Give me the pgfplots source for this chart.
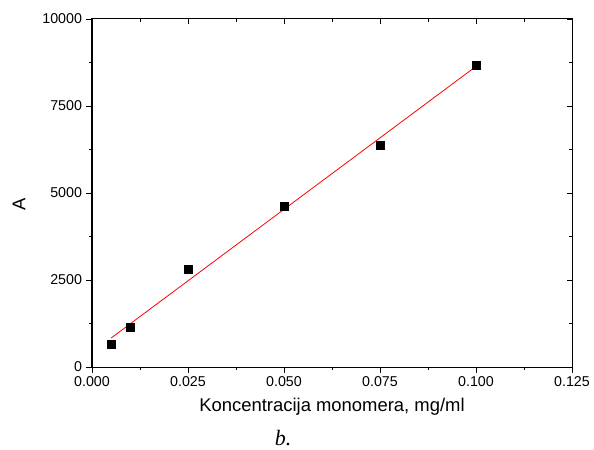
\documentclass[border=0pt]{standalone}
\usepackage{pgfplots}
\pgfplotsset{compat=1.18}
\usepackage{fontspec}
\setmainfont{Liberation Sans}
\newfontfamily\seriffont{Liberation Serif}
\begin{document}
\begin{tikzpicture}
\useasboundingbox (-92bp,-83bp) rectangle (502bp,367bp);
\pgfplotsset{
  common/.style={
    at={(0,0)}, anchor=south west,
    scale only axis, width=480bp, height=348bp,
    xmin=0, xmax=0.125, ymin=0, ymax=10000,
    xtick={0,0.025,0.05,0.075,0.1,0.125},
    ytick={0,2500,5000,7500,10000},
    minor x tick num=1, minor y tick num=1,
    scaled x ticks=false, scaled y ticks=false,
    axis line style={line width=1bp},
    major tick length=5.5bp, minor tick length=3bp,
    every tick/.style={black, line width=0.9bp},
    /pgf/number format/assume math mode=true,
    tick label style={font=\fontsize{14.3}{16}\selectfont},
  }
}
\begin{axis}[common,
  axis lines=box,
  tick align=outside,
  xtick pos=left, ytick pos=left,
  xticklabel style={/pgf/number format/fixed, /pgf/number format/fixed zerofill, /pgf/number format/precision=3},
  yticklabel style={/pgf/number format/fixed, /pgf/number format/set thousands separator={}},
  xlabel={Koncentracija monomera, mg/ml},
  ylabel={A},
  label style={font=\fontsize{18.5}{20}\selectfont},
  xlabel style={at={(axis description cs:0.5,0)}, anchor=center, yshift=-40bp},
  ylabel style={at={(axis description cs:-0.152,0.466)}, anchor=center},
  xticklabel shift=1bp, yticklabel shift=1bp,
  clip=false,
]
\addplot[red, line width=0.8bp, no marks] coordinates {(0.005,834) (0.1,8638)};
\addplot[only marks, mark=square*, mark size=4bp, black] coordinates {
(0.005,661) (0.01,1149) (0.025,2816) (0.05,4626) (0.075,6379) (0.1,8678)};
\node[font=\seriffont\itshape\fontsize{22}{24}\selectfont] at (axis description cs:0.398,-0.205) {b.};
\end{axis}
\begin{axis}[common,
  tick align=inside,
  xtick pos=right, ytick pos=right,
  xticklabels={}, yticklabels={},
]
\end{axis}
\end{tikzpicture}
\end{document}
